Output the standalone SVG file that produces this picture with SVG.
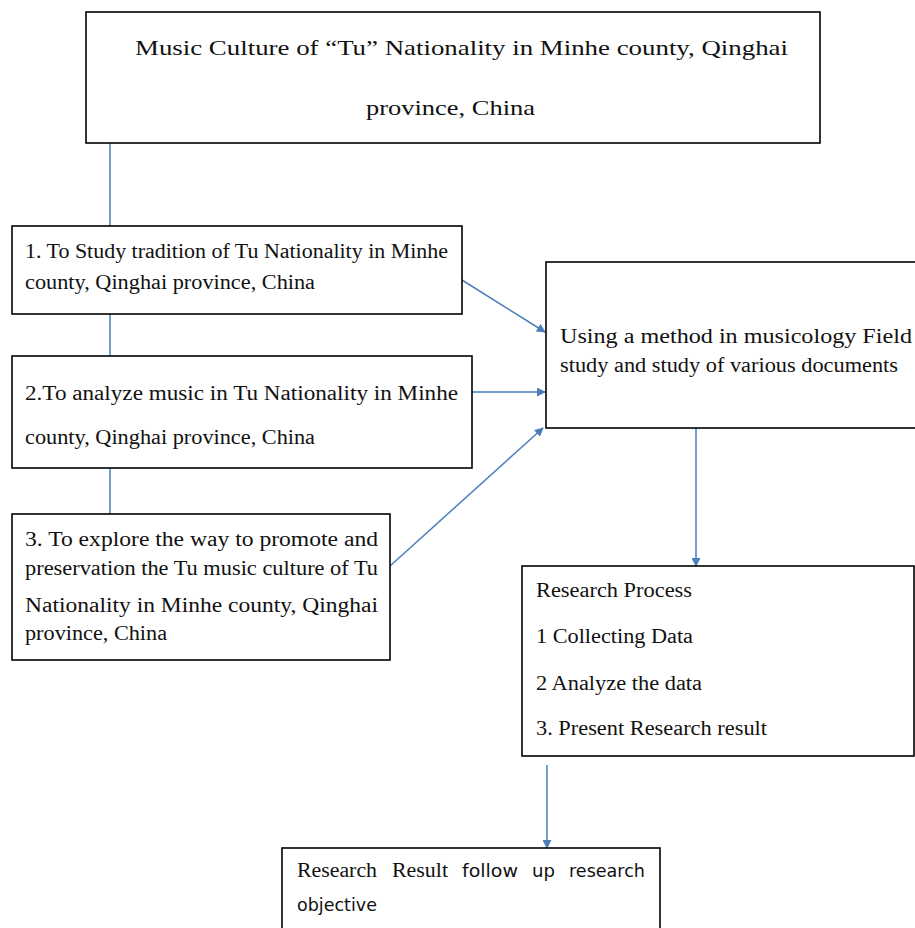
<svg xmlns="http://www.w3.org/2000/svg" width="915" height="928" viewBox="0 0 915 928">
<style>
.box{fill:#fff;stroke:#000;stroke-width:1.6}
.t{font-family:"Liberation Serif","Times New Roman",serif;fill:#111;font-size:20px}
.s{font-family:"DejaVu Sans","Noto Sans",sans-serif;fill:#111;font-size:17px}
.c{stroke:#4a7ebb;stroke-width:1.5;fill:none}
</style>
<defs>
<marker id="ah" viewBox="0 0 10 10" refX="9" refY="5" markerWidth="9" markerHeight="9" orient="auto" markerUnits="userSpaceOnUse">
<path d="M0,0 L10,5 L0,10 z" fill="#4a7ebb"/>
</marker>
</defs>
<rect width="915" height="928" fill="#fff"/>
<g id="connectors">
<line class="c" x1="110" y1="143" x2="110" y2="226"/>
<line class="c" x1="110" y1="314" x2="110" y2="356"/>
<line class="c" x1="110" y1="468" x2="110" y2="514"/>
<line class="c" x1="462" y1="280" x2="545" y2="332" marker-end="url(#ah)"/>
<line class="c" x1="472" y1="392" x2="545" y2="392" marker-end="url(#ah)"/>
<line class="c" x1="390" y1="566" x2="543" y2="428" marker-end="url(#ah)"/>
<line class="c" x1="696" y1="428" x2="696" y2="566" marker-end="url(#ah)"/>
<line class="c" x1="547" y1="765" x2="547" y2="848" marker-end="url(#ah)"/>
</g>
<g id="title">
<rect class="box" x="86" y="12" width="734" height="131"/>
<text class="t" x="135" y="55" style="font-size:22px" textLength="653" lengthAdjust="spacingAndGlyphs">Music Culture of “Tu” Nationality in Minhe county, Qinghai</text>
<text class="t" x="366" y="115" style="font-size:22px" textLength="169" lengthAdjust="spacingAndGlyphs">province, China</text>
</g>
<g id="obj1">
<rect class="box" x="12" y="226" width="450" height="88"/>
<text class="t" x="25" y="258" textLength="423" lengthAdjust="spacingAndGlyphs">1. To Study tradition of Tu Nationality in Minhe</text>
<text class="t" x="25" y="289" textLength="290" lengthAdjust="spacingAndGlyphs">county, Qinghai province, China</text>
</g>
<g id="obj2">
<rect class="box" x="12" y="356" width="460" height="112"/>
<text class="t" x="25" y="400" textLength="433" lengthAdjust="spacingAndGlyphs">2.To analyze music in Tu Nationality in Minhe</text>
<text class="t" x="25" y="444" textLength="290" lengthAdjust="spacingAndGlyphs">county, Qinghai province, China</text>
</g>
<g id="obj3">
<rect class="box" x="12" y="514" width="378" height="146"/>
<text class="t" x="25" y="546" textLength="353" lengthAdjust="spacingAndGlyphs">3. To explore the way to promote and</text>
<text class="t" x="25" y="575" textLength="353" lengthAdjust="spacingAndGlyphs">preservation the Tu music culture of Tu</text>
<text class="t" x="25" y="612" textLength="353" lengthAdjust="spacingAndGlyphs">Nationality in Minhe county, Qinghai</text>
<text class="t" x="25" y="640" textLength="142" lengthAdjust="spacingAndGlyphs">province, China</text>
</g>
<g id="method">
<rect class="box" x="546" y="262" width="380" height="166"/>
<text class="t" x="560" y="343" textLength="352" lengthAdjust="spacingAndGlyphs">Using a method in musicology Field</text>
<text class="t" x="560" y="372" textLength="338" lengthAdjust="spacingAndGlyphs">study and study of various documents</text>
</g>
<g id="process">
<rect class="box" x="522" y="566" width="392" height="190"/>
<text class="t" x="536" y="597" textLength="156" lengthAdjust="spacingAndGlyphs">Research Process</text>
<text class="t" x="536" y="643" textLength="157" lengthAdjust="spacingAndGlyphs">1 Collecting Data</text>
<text class="t" x="536" y="690" textLength="166" lengthAdjust="spacingAndGlyphs">2 Analyze the data</text>
<text class="t" x="536" y="735" textLength="231" lengthAdjust="spacingAndGlyphs">3. Present Research result</text>
</g>
<g id="result">
<rect class="box" x="282" y="848" width="378" height="90"/>
<text class="t" x="297" y="877" textLength="80" lengthAdjust="spacingAndGlyphs">Research</text>
<text class="t" x="392" y="877" textLength="56" lengthAdjust="spacingAndGlyphs">Result</text>
<text class="s" x="462" y="877" textLength="56" lengthAdjust="spacingAndGlyphs">follow</text>
<text class="s" x="532" y="877" textLength="23" lengthAdjust="spacingAndGlyphs">up</text>
<text class="s" x="569" y="877" textLength="76" lengthAdjust="spacingAndGlyphs">research</text>
<text class="s" x="297" y="911" textLength="80" lengthAdjust="spacingAndGlyphs">objective</text>
</g>
</svg>
